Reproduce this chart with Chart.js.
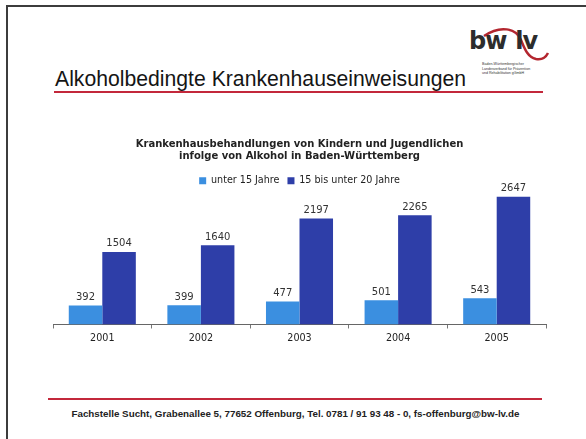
<!DOCTYPE html>
<html lang="de">
<head>
  <meta charset="UTF-8">
  <title>Alkoholbedingte Krankenhauseinweisungen</title>
  <script src="https://cdn.jsdelivr.net/npm/chart.js"></script>
  <style>
    html, body { margin: 0; padding: 0; background: #fff; }
    body { width: 586px; height: 439px; position: relative; overflow: hidden; font-family: "Liberation Sans", Arial, sans-serif; }
    .frame-left { position: absolute; left: 6px; top: 5px; width: 2px; height: 434px; background: #3c3c3c; }
    .frame-top { position: absolute; left: 6px; top: 5px; width: 580px; height: 2px; background: #3c3c3c; }
    .page-title { position: absolute; left: 55px; top: 67px; font-size: 21.2px; color: #151515; white-space: nowrap; }
    .rule { position: absolute; height: 2px; background: #c3283b; }
    .footer { position: absolute; left: 0; width: 591px; top: 408px; text-align: center; font-size: 9.8px; font-weight: bold; color: #222; white-space: nowrap; }
    .logo { position: absolute; left: 466px; top: 26px; width: 84px; height: 56px; }
    .logo .mark { position: absolute; left: 3px; top: 1px; font-family: "DejaVu Sans", sans-serif; font-size: 24px; font-weight: bold; color: #2c2c2c; letter-spacing: -1px; }
    .logo .mark span { margin-left: 9px; }
    .logo .small { position: absolute; left: 16px; top: 36px; font-size: 3.6px; line-height: 4.6px; color: #333; white-space: nowrap; }
    #wrap { position: absolute; left: 40px; top: 132px; width: 520px; height: 216px; }
  </style>
</head>
<body>
  <div class="frame-left"></div>
  <div class="frame-top"></div>

  <div class="page-title">Alkoholbedingte Krankenhauseinweisungen</div>
  <div class="rule" style="left:54px; top:91px; width:489px;"></div>

  <div class="logo">
    <svg width="84" height="40" style="position:absolute;left:0;top:0">
      <path d="M18 10 C 34 -1, 50 2, 55 14 C 59 24, 62 31, 70 33 C 76 34, 80 31, 82 27" fill="none" stroke="#b3262f" stroke-width="2.5"/>
    </svg>
    <div class="mark">bw<span>lv</span></div>
    <div class="small">Baden-Württembergischer<br>Landesverband für Prävention<br>und Rehabilitation gGmbH</div>
  </div>

  <div id="wrap"><canvas id="chart"></canvas></div>

  <div class="rule" style="left:48px; top:398px; width:494px;"></div>
  <div class="footer">Fachstelle Sucht, Grabenallee 5, 77652 Offenburg, Tel. 0781 / 91 93 48 - 0, fs-offenburg@bw-lv.de</div>

  <script>
    const years = ["2001", "2002", "2003", "2004", "2005"];
    const under15 = [392, 399, 477, 501, 543];
    const age15to20 = [1504, 1640, 2197, 2265, 2647];
    const seriesNames = ["unter 15 Jahre", "15 bis unter 20 Jahre"];

    // Zahlen über den Balken
    const valueLabels = {
      id: "valueLabels",
      afterDatasetsDraw(chart) {
        const ctx = chart.ctx;
        ctx.save();
        ctx.font = "10px 'DejaVu Sans'";
        ctx.fillStyle = "#333";
        ctx.textAlign = "center";
        ctx.textBaseline = "bottom";
        chart.data.datasets.forEach((ds, i) => {
          chart.getDatasetMeta(i).data.forEach((bar, j) => {
            ctx.fillText(ds.data[j], bar.x, bar.y - 3);
          });
        });
        ctx.restore();
      }
    };

    new Chart(document.getElementById("chart"), {
      type: "bar",
      data: {
        labels: years,
        datasets: [
          { label: seriesNames[0], data: under15, backgroundColor: "#3b8fe0", borderWidth: 0 },
          { label: seriesNames[1], data: age15to20, backgroundColor: "#2e3ea8", borderWidth: 0 }
        ]
      },
      options: {
        responsive: true,
        maintainAspectRatio: false,
        animation: false,
        datasets: { bar: { categoryPercentage: 0.68, barPercentage: 1.0 } },
        layout: { padding: { left: 13, right: 14, top: 0, bottom: 0 } },
        plugins: {
          title: {
            display: true,
            text: ["Krankenhausbehandlungen von Kindern und Jugendlichen", "infolge von Alkohol in Baden-Württemberg"],
            font: { family: "DejaVu Sans", size: 10, weight: "bold", lineHeight: 1.25 },
            color: "#222",
            padding: { top: 6, bottom: 5 }
          },
          legend: {
            labels: {
              font: { family: "DejaVu Sans", size: 9.6 },
              color: "#222",
              boxWidth: 7,
              boxHeight: 7,
              padding: 8
            }
          },
          tooltip: { enabled: false }
        },
        scales: {
          x: {
            grid: { display: true, drawOnChartArea: false, tickLength: 4, color: "#777" },
            border: { display: true, color: "#666" },
            ticks: { font: { family: "DejaVu Sans", size: 9.6 }, color: "#222", padding: 4 }
          },
          y: {
            display: false,
            min: 0,
            max: 2670
          }
        }
      },
      plugins: [valueLabels]
    });
  </script>
</body>
</html>
